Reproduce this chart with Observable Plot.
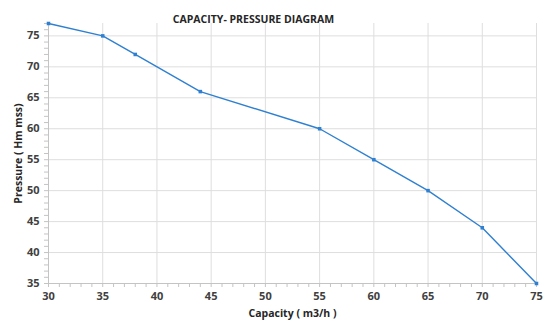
<!DOCTYPE html>
<html>
<head>
<meta charset="utf-8">
<script src="https://cdn.jsdelivr.net/npm/d3@7"></script>
<script src="https://cdn.jsdelivr.net/npm/@observablehq/plot@0.6"></script>
<style>
  html, body { margin: 0; padding: 0; background: #fff; }
  svg { display: block; }
</style>
</head>
<body>
<div id="chart"></div>
<script>
const title = "CAPACITY- PRESSURE DIAGRAM";
const xLabel = "Capacity ( m3/h )";
const yLabel = "Pressure ( Hm mss)";
const capacity = [30, 35, 38, 44, 55, 60, 65, 70, 75];
const pressure = [77, 75, 72, 66, 60, 55, 50, 44, 35];
const xTicks = [30, 35, 40, 45, 50, 55, 60, 65, 70, 75];
const yTicks = [35, 40, 45, 50, 55, 60, 65, 70, 75];
const xMinor = d3.range(30, 76, 1);
const yMinor = d3.range(35, 78, 1);

const data = capacity.map((c, i) => ({capacity: c, pressure: pressure[i]}));
const font = "'Open Sans', 'Liberation Sans', sans-serif";

const chart = Plot.plot({
  width: 543,
  height: 324,
  marginLeft: 48,
  marginRight: 7,
  marginTop: 23,
  marginBottom: 41,
  style: {fontFamily: font, fontSize: "10px", color: "#404040", background: "#fff"},
  x: {domain: [30, 75]},
  y: {domain: [35, 77]},
  marks: [
    Plot.gridX(xTicks, {stroke: "#dedede", strokeOpacity: 1}),
    Plot.gridY(yTicks, {stroke: "#dedede", strokeOpacity: 1}),
    Plot.ruleX([30], {stroke: "#c4c4c4"}),
    Plot.ruleY([35], {stroke: "#c4c4c4"}),
    Plot.axisX(xMinor, {tickSize: 4, stroke: "#c4c4c4", text: null, label: null}),
    Plot.axisY(yMinor, {tickSize: 4, stroke: "#c4c4c4", text: null, label: null}),
    Plot.axisX(xTicks, {tickSize: 0, tickPadding: 9, fontWeight: "bold", fontSize: 11, fill: "#404040",
      label: xLabel, labelAnchor: "center", labelArrow: "none", labelOffset: 33}),
    Plot.axisY(yTicks, {tickSize: 0, tickPadding: 9, fontWeight: "bold", fontSize: 11, fill: "#404040",
      label: yLabel, labelAnchor: "center", labelArrow: "none", labelOffset: 34}),
    Plot.line(data, {x: "capacity", y: "pressure", stroke: "#2f80d1", strokeWidth: 1.4}),
    Plot.dot(data, {x: "capacity", y: "pressure", fill: "#2f80d1", r: 2, symbol: "square"}),
    Plot.text([title], {frameAnchor: "top", dy: -8, fontWeight: "bold", fontSize: 10.5, fill: "#262626", dx: -39})
  ]
});
document.getElementById("chart").appendChild(chart);
chart.querySelectorAll("[aria-label='x-axis label'] text, [aria-label='y-axis label'] text").forEach(t => {
  t.setAttribute("font-weight", "bold");
  t.setAttribute("font-size", "10.5");
  t.setAttribute("fill", "#262626");
});
</script>
</body>
</html>
